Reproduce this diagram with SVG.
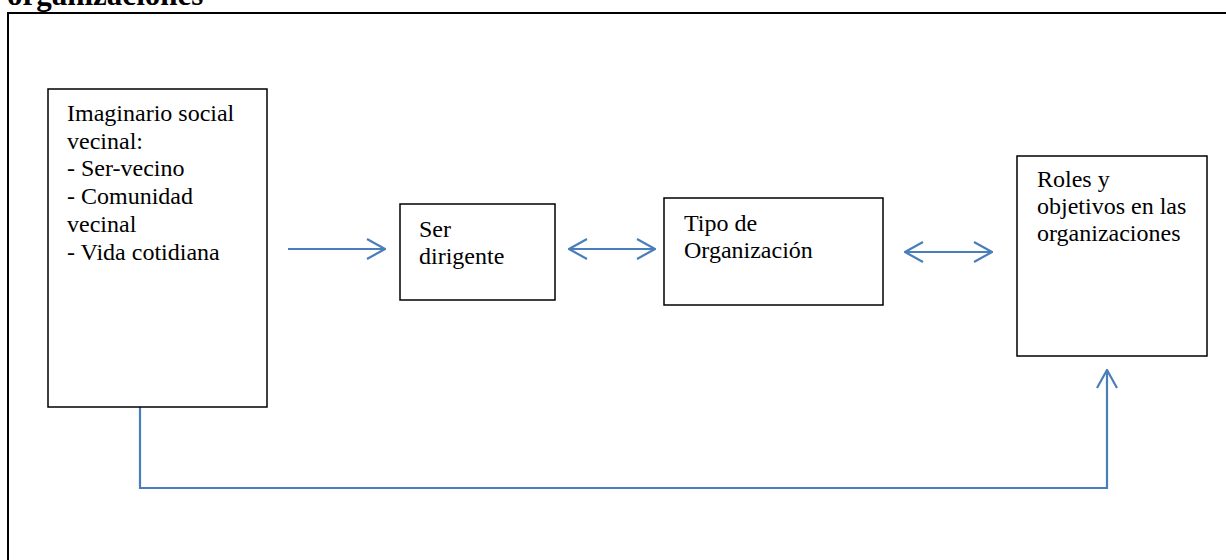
<svg xmlns="http://www.w3.org/2000/svg" width="1226" height="560" viewBox="0 0 1226 560">
<style>
.box{fill:#fff;stroke:#000;stroke-width:1.5}
.c{fill:none;stroke:#4a7ebb;stroke-width:2.2}
</style>
<defs>
<marker id="ah" viewBox="0 0 20 22" refX="19" refY="11" markerWidth="20" markerHeight="22" markerUnits="userSpaceOnUse" orient="auto-start-reverse">
<path d="M1,1 L19,11 L1,21" fill="none" stroke="#4a7ebb" stroke-width="2.2"/>
</marker>
</defs>
<rect width="1226" height="560" fill="#fff"/>
<text x="7" y="4.5" font-family="Liberation Serif, Times New Roman, serif" font-size="31" font-weight="bold">organizaciones</text>
<path d="M8,560 V13 H1226" fill="none" stroke="#000" stroke-width="2"/>
<g id="connectors">
<line class="c" x1="288" y1="249" x2="385" y2="249" marker-end="url(#ah)"/>
<line class="c" x1="569" y1="249" x2="655" y2="249" marker-start="url(#ah)" marker-end="url(#ah)"/>
<line class="c" x1="905" y1="252" x2="992" y2="252" marker-start="url(#ah)" marker-end="url(#ah)"/>
<polyline class="c" points="140,407 140,488 1107,488 1107,370" marker-end="url(#ah)"/>
</g>
<g font-family="Liberation Serif, Times New Roman, serif" font-size="24" fill="#000">
<g id="imaginario">
<rect class="box" x="48" y="89" width="219" height="318"/>
<text><tspan x="67" y="121">Imaginario social</tspan><tspan x="67" y="149">vecinal:</tspan><tspan x="67" y="176">- Ser-vecino</tspan><tspan x="67" y="204">- Comunidad</tspan><tspan x="67" y="232">vecinal</tspan><tspan x="67" y="260">- Vida cotidiana</tspan></text>
</g>
<g id="ser-dirigente">
<rect class="box" x="400" y="204" width="155" height="96"/>
<text><tspan x="419" y="237">Ser</tspan><tspan x="419" y="264">dirigente</tspan></text>
</g>
<g id="tipo-organizacion">
<rect class="box" x="664" y="198" width="219" height="107"/>
<text><tspan x="684" y="231">Tipo de</tspan><tspan x="684" y="258">Organización</tspan></text>
</g>
<g id="roles">
<rect class="box" x="1017" y="156" width="190" height="200"/>
<text><tspan x="1037" y="187">Roles y</tspan><tspan x="1037" y="214">objetivos en las</tspan><tspan x="1037" y="241">organizaciones</tspan></text>
</g>
</g>
</svg>
